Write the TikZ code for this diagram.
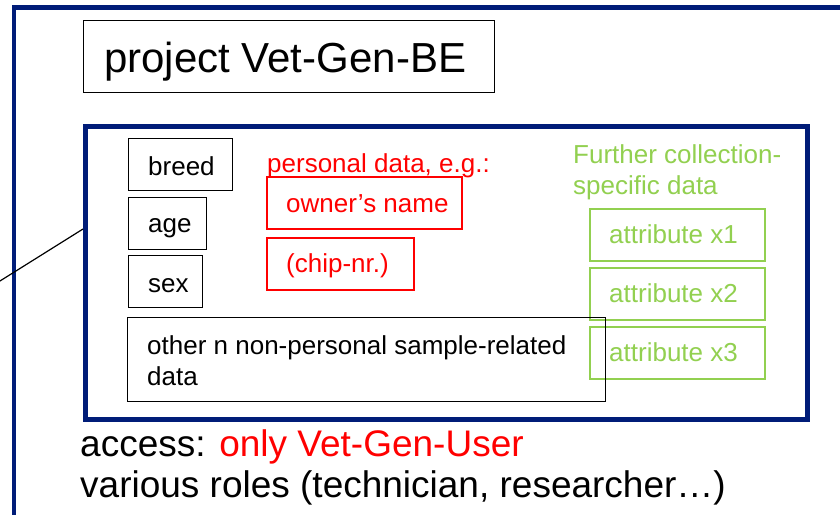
\documentclass[tikz,border=0pt]{standalone}
\usepackage{fontspec}
\setmainfont{Liberation Sans}
\definecolor{navy}{RGB}{0,28,120}
\definecolor{pred}{RGB}{255,0,0}
\definecolor{pgreen}{RGB}{146,208,80}
\begin{document}
\begin{tikzpicture}[x=1pt,y=-1pt,
 box/.style={draw, anchor=north west, inner sep=0pt, minimum height=52pt},
 bbox/.style={box, draw=black, line width=1.3pt},
 rbox/.style={box, draw=pred, line width=1.8pt},
 gbox/.style={box, draw=pgreen, line width=1.6pt},
 txt/.style={anchor=base west, inner sep=0pt, font=\fontsize{26}{31}\selectfont},
 bigtxt/.style={anchor=base west, inner sep=0pt, font=\fontsize{37}{44}\selectfont},
 frame/.style={draw=navy, line width=4.6pt},
]
\useasboundingbox (0,0) rectangle (840,514);
\clip (0,0) rectangle (840,514);
\fill[white] (0,0) rectangle (840,514);

% outer frame (continues beyond the picture)
\draw[frame] (14,600) -- (14,7.5) -- (900,7.5);

% title
\node[bbox, minimum width=411pt, minimum height=72pt] (title) at (83,20) {};
\node[anchor=base west, inner sep=0pt, font=\fontsize{42}{50}\selectfont] (titlet) at (104,72) {project Vet-Gen-BE};

% inner frame
\node[frame, anchor=north west, inner sep=0pt, minimum width=722pt, minimum height=293pt] (inner) at (83,124) {};

% connector from the left
\coordinate (lstart) at (-20,293.5);
\draw[line width=1.2pt] (lstart) -- ([yshift=-105pt]inner.north west);

% black boxes
\node[bbox, minimum width=104pt] (breed) at (128,138) {};
\node[txt] (breedt) at ([xshift=20pt,yshift=-37pt]breed.north west) {breed};
\node[bbox, minimum width=78pt] (age) at (128,197) {};
\node[txt] (aget) at ([xshift=20pt,yshift=-35pt]age.north west) {age};
\node[bbox, minimum width=74pt] (sex) at (128,255) {};
\node[txt] (sext) at ([xshift=20pt,yshift=-37pt]sex.north west) {sex};

% green boxes
\node[txt, text=pgreen] (greenh1) at (573,163) {Further collection-};
\node[txt, text=pgreen] (greenh2) at (573,194) {specific data};
\node[gbox, minimum width=175pt] (x1) at (589,208) {};
\node[txt, text=pgreen] (x1t) at ([xshift=20pt,yshift=-35pt]x1.north west) {attribute x1};
\node[gbox, minimum width=175pt] (x2) at (589,267) {};
\node[txt, text=pgreen] (x2t) at ([xshift=20pt,yshift=-35pt]x2.north west) {attribute x2};
\node[gbox, minimum width=175pt] (x3) at (589,326) {};
\node[txt, text=pgreen] (x3t) at ([xshift=20pt,yshift=-35pt]x3.north west) {attribute x3};

% other data box
\node[bbox, minimum width=478pt, minimum height=84pt] (other) at (127,317) {};
\node[txt] (othert1) at (147,354) {other n non-personal sample-related};
\node[txt] (othert2) at (147,385) {data};

% red boxes
\node[txt, text=pred] (redh) at (267,172) {personal data, e.g.:};
\node[rbox, minimum width=195pt] (owner) at (266,176) {};
\node[txt, text=pred] (ownert) at ([xshift=20pt,yshift=-36pt]owner.north west) {owner’s name};
\node[rbox, minimum width=147pt] (chip) at (266,237) {};
\node[txt, text=pred] (chipt) at ([xshift=20pt,yshift=-35pt]chip.north west) {(chip-nr.)};

% bottom text
\node[bigtxt] (access) at (80,456) {access: \textcolor{pred}{only Vet-Gen-User}};
\node[bigtxt] (roles) at (80,497) {various roles (technician, researcher…)};
\end{tikzpicture}
\end{document}
